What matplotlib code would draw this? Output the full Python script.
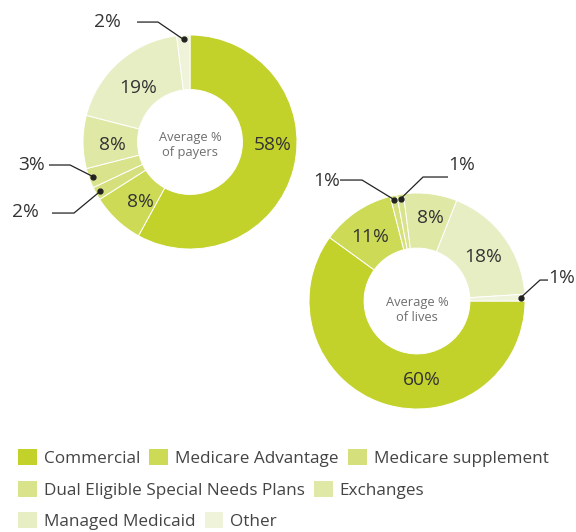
import numpy as np
import matplotlib
matplotlib.use("Agg")
import matplotlib.pyplot as plt
from matplotlib.patches import Patch

# ---------------- data ----------------
categories = ["Commercial", "Medicare Advantage", "Medicare supplement",
              "Dual Eligible Special Needs Plans", "Exchanges",
              "Managed Medicaid", "Other"]
payers = [58, 8, 2, 3, 8, 19, 2]
lives = [60, 11, 1, 1, 8, 18, 1]
colors = ["#c2d22b", "#ccda56", "#d5e07c", "#d9e38c", "#e0e8a5",
          "#e8eec4", "#eef3d9"]

# ---------------- style ----------------
plt.rcParams['font.family'] = ['Open Sans', 'DejaVu Sans']
TXT = "#333333"
W, H = 576, 532
fig = plt.figure(figsize=(W / 100, H / 100), dpi=100)


def axes_box(cx, cy, r):
    return [(cx - r) / W, (H - cy - r) / H, 2 * r / W, 2 * r / H]


def donut(box, values, start, center_text, center_pos, inside_pos, leaders):
    ax = fig.add_axes(box)
    wedges, _ = ax.pie(values, colors=colors, startangle=start, counterclock=False,
                       radius=1.0,
                       wedgeprops=dict(width=0.51, edgecolor="white", linewidth=0.7))
    ax.set_xlim(-1, 1)
    ax.set_ylim(-1, 1)
    ax.set_aspect("equal")
    ax.axis("off")
    ax.text(center_pos[0], center_pos[1], center_text, ha="center", va="center",
            fontsize=9.3, color="#6e6e6e", linespacing=1.2)
    for i, (x, y) in inside_pos.items():
        ax.text(x, y, f"{values[i]}%", ha="center", va="center", fontsize=13.8,
                color=TXT)
    for i, (tx, ty, sx, sy, ex, ey) in leaders.items():
        w = wedges[i]
        mid = np.deg2rad((w.theta1 + w.theta2) / 2)
        rr = 0.96
        dx, dy = rr * np.cos(mid), rr * np.sin(mid)
        ax.plot([sx, ex, dx], [sy, ey, dy], color="#222222", lw=0.9,
                clip_on=False, solid_capstyle="butt")
        ax.plot([dx], [dy], "o", color="#222222", ms=3.5, clip_on=False)
        ax.text(tx, ty, f"{values[i]}%", ha="center", va="center", fontsize=13.8,
                color=TXT, clip_on=False)
    return ax


# left donut: average % of payers
donut(axes_box(190, 142, 107), payers, 90, "Average %\nof payers", (0, -0.03),
      {0: (0.776, -0.028), 1: (-0.467, -0.561), 4: (-0.729, -0.028), 5: (-0.486, 0.505)},
      {6: (-0.776, 1.121, -0.495, 1.121, -0.299, 1.121),
       3: (-1.477, -0.215, -1.318, -0.215, -1.121, -0.215),
       2: (-1.542, -0.654, -1.29, -0.664, -1.084, -0.664)})

# right donut: average % of lives
donut(axes_box(417, 301, 108), lives, 0, "Average %\nof lives", (0, -0.08),
      {0: (0.046, -0.731), 1: (-0.435, 0.593), 4: (0.120, 0.769), 5: (0.611, 0.407)},
      {2: (-0.833, 1.111, -0.713, 1.12, -0.509, 1.12),
       3: (0.417, 1.259, 0.287, 1.148, 0.056, 1.148),
       6: (1.343, 0.213, 1.213, 0.194, 1.139, 0.194)})

# ---------------- legend (three rows) ----------------
rows = [[0, 1, 2], [3, 4], [5, 6]]
row_y = [458, 490, 521]
for idx, y in zip(rows, row_y):
    handles = [Patch(facecolor=colors[i], edgecolor="none") for i in idx]
    labels = [categories[i] for i in idx]
    leg = fig.legend(handles, labels, loc="center left",
                     bbox_to_anchor=(18 / W, 1 - y / H), ncol=len(idx),
                     frameon=False, borderpad=0, borderaxespad=0,
                     handlelength=1.1, handleheight=1.1, handletextpad=0.4,
                     columnspacing=0.55, prop=dict(size=12.3))
    for t in leg.get_texts():
        t.set_color("#444444")

fig.savefig("out.png", dpi=100, facecolor="white")
